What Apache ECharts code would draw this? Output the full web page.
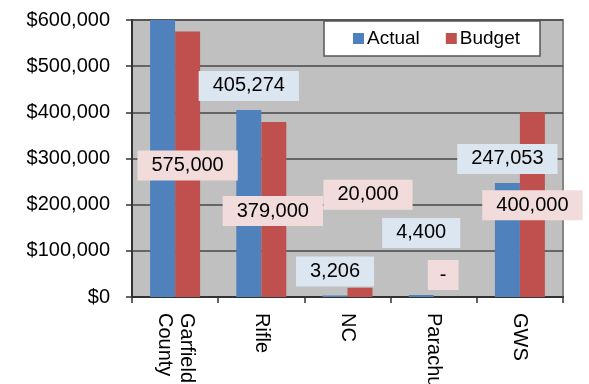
<!DOCTYPE html>
<html>
<head>
<meta charset="utf-8">
<script src="https://cdn.jsdelivr.net/npm/echarts@6/dist/echarts.min.js"></script>
<style>
  html, body { margin: 0; padding: 0; background: #fff; }
  #chart { width: 589px; height: 384px; }
</style>
</head>
<body>
<div id="chart"></div>
<script>
// Actual vs. budget by entity
const categories = ['Garfield\nCounty', 'Rifle', 'NC', 'Parachute', 'GWS'];
const actual = [600000, 405274, 3206, 4400, 247053];
const budget = [575000, 379000, 20000, 0, 400000];
const yTicks = { min: 0, max: 600000, interval: 100000 };

// Hand-placed label offsets (px) from each bar's top centre
const actualLabelOffsets = [null, [0, -24], [0, -24], [0, -62], [0, -24]];
const budgetLabelOffsets = [[0, 134], [-1, 89], [8, -93], [-3, -22], [0, 93]];

const FONT = "'Liberation Sans', Arial, sans-serif";
const fmtNum = v => v === 0 ? '-' : v.toLocaleString('en-US');

function labelled(values, offsets, bg) {
  return values.map((v, i) => {
    const off = offsets[i];
    if (!off) return { value: v, label: { show: false } };
    return {
      value: v,
      label: {
        show: true,
        position: ['50%', 0],
        align: 'center',
        verticalAlign: 'middle',
        offset: off,
        formatter: p => fmtNum(p.value),
        color: '#000',
        fontFamily: FONT,
        fontSize: 20,
        backgroundColor: bg,
        padding: v === 0 ? [5, 12] : [5, 14]
      }
    };
  });
}

const chart = echarts.init(document.getElementById('chart'), null, { renderer: 'canvas' });
chart.setOption({
  animation: false,
  textStyle: { fontFamily: FONT },
  grid: {
    left: 132, right: 26, top: 20, bottom: 87,
    containLabel: false,
    outerBoundsMode: 'none',
    show: true,
    backgroundColor: '#c0c0c0',
    borderColor: '#858585',
    borderWidth: 2
  },
  legend: {
    data: ['Actual', 'Budget'],
    left: 324, top: 21,
    width: 221,
    backgroundColor: '#fff',
    borderColor: '#555',
    borderWidth: 1.5,
    borderRadius: 0,
    padding: [8, 20, 8, 29],
    itemWidth: 11, itemHeight: 11,
    itemGap: 26,
    icon: 'rect',
    textStyle: { fontFamily: FONT, fontSize: 19, color: '#000', padding: [0, 0, 0, -2] }
  },
  xAxis: {
    type: 'category',
    data: categories,
    axisLine: { lineStyle: { color: '#333', width: 2 } },
    axisTick: { show: true, length: 6, lineStyle: { color: '#333', width: 1.5 } },
    axisLabel: {
      rotate: -90,
      margin: 16,
      color: '#000',
      fontFamily: FONT,
      fontSize: 20,
      lineHeight: 22
    }
  },
  yAxis: {
    type: 'value',
    min: yTicks.min, max: yTicks.max, interval: yTicks.interval,
    axisLine: { show: true, lineStyle: { color: '#333', width: 2 } },
    axisTick: { show: true, length: 6, lineStyle: { color: '#333', width: 1.5 } },
    axisLabel: {
      margin: 22,
      color: '#000',
      fontFamily: FONT,
      fontSize: 20,
      formatter: v => '$' + v.toLocaleString('en-US')
    },
    splitLine: { lineStyle: { color: '#474747', width: 1.5 } }
  },
  series: [
    {
      name: 'Actual',
      type: 'bar',
      barWidth: 25,
      barGap: '0%',
      itemStyle: { color: '#4f81bd' },
      z: 2,
      data: labelled(actual, actualLabelOffsets, '#dce6f1')
    },
    {
      name: 'Budget',
      type: 'bar',
      barWidth: 25,
      barGap: '0%',
      itemStyle: { color: '#c0504d' },
      z: 2,
      data: labelled(budget, budgetLabelOffsets, '#f2dcdb')
    }
  ]
});
</script>
</body>
</html>
